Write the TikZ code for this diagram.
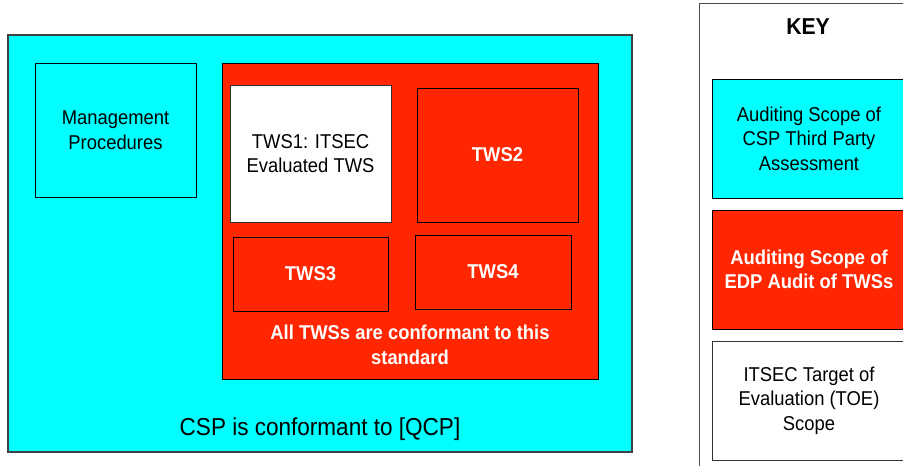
\documentclass[tikz,border=0pt]{standalone}
\usepackage{fontspec}
\setmainfont[FakeStretch=0.92]{Liberation Sans}
\usepackage{tikz}
\usepackage{xcolor}
\usetikzlibrary{positioning}
\definecolor{cspcyan}{RGB}{0,255,255}
\definecolor{edpred}{RGB}{255,38,0}

\begin{document}
\begin{tikzpicture}[x=1pt,y=-1pt]
\tikzstyle{every node}+=[inner sep=0pt,align=center,font=\fontsize{20}{24.5}\selectfont]
\tikzstyle{cspbox}=[draw=black,fill=cspcyan,line width=0.8pt]
\tikzstyle{edpbox}=[draw=black,fill=edpred,line width=0.8pt,text=white,font=\fontsize{20}{24.5}\selectfont\bfseries]
\tikzstyle{toebox}=[draw=black!80,fill=white,line width=0.8pt]
\useasboundingbox (0,0) rectangle (903,466);
% scope of the CSP
\node [cspbox,draw=black!75,line width=1.2pt,minimum width=624pt,minimum height=417pt] (csp) at (320,243.5) {};
\node [font=\fontsize{24.5}{28}\selectfont] (cspnote) at (320,429) {CSP is conformant to [QCP]};
\node [cspbox,minimum width=161pt,minimum height=134pt] (mgmt) at (115.5,130) {Management\\Procedures};
% EDP audit of the TWSs
\node [edpbox,minimum width=376pt,minimum height=316pt] (edp) at (410,221) {};
\node [toebox,minimum width=161pt,minimum height=137pt] (tws1) at (310.5,153.5) {TWS1: ITSEC\\Evaluated TWS};
\node [edpbox,minimum width=161pt,minimum height=134pt] (tws2) at (497.5,155) {TWS2};
\node [edpbox,minimum width=155pt,minimum height=74pt] (tws3) at (310.5,274) {TWS3};
\node [edpbox,minimum width=156pt,minimum height=74pt] (tws4) at (493,272) {TWS4};
\node [text=white,font=\fontsize{20}{24.5}\selectfont\bfseries] (edpnote) at (410,345) {All TWSs are conformant to this\\standard};
% key
\node [toebox,draw=black!70,minimum width=221pt,minimum height=490pt] (key) at (809.5,248) {};
\node [font=\fontsize{23}{24.5}\selectfont\bfseries] (keytitle) at (808,27) {KEY};
\node [cspbox,minimum width=194pt,minimum height=119pt] (keycsp) at (809,138.5) {Auditing Scope of\\CSP Third Party\\Assessment};
\node [edpbox,minimum width=194pt,minimum height=119pt] (keyedp) at (809,269.5) {Auditing Scope of\\EDP Audit of TWSs};
\node [toebox,minimum width=194pt,minimum height=119pt] (keytoe) at (809,400.5) {ITSEC Target of\\Evaluation (TOE)\\Scope};
\end{tikzpicture}
\end{document}
